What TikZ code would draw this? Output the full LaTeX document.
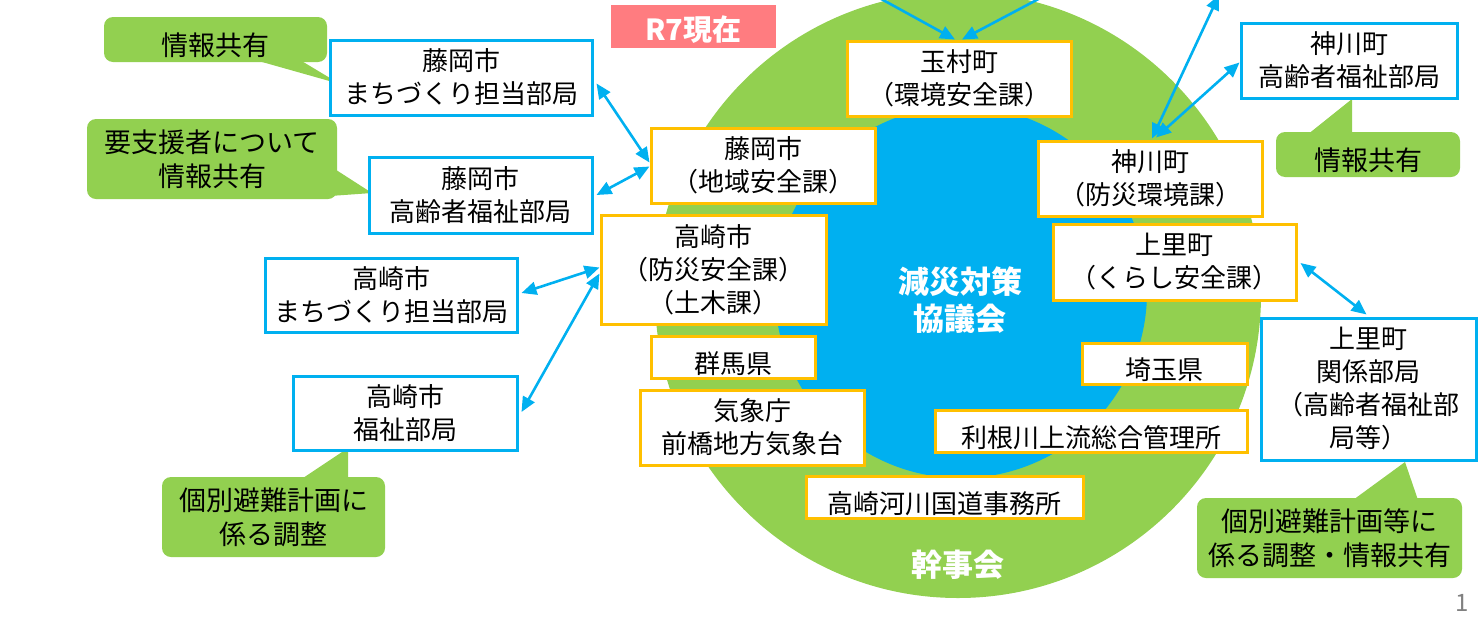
\documentclass[tikz,border=0pt]{standalone}
\usepackage{fontspec}
\setmainfont{Noto Sans CJK JP}
\usetikzlibrary{arrows.meta,calc}
\definecolor{ringgreen}{HTML}{92D050}
\definecolor{coreblue}{HTML}{00B0F0}
\definecolor{boxorange}{HTML}{FFC000}
\definecolor{tagpink}{HTML}{FF7C80}
\tikzset{
  member/.style={draw=boxorange,fill=white,line width=3pt,align=center,inner sep=0pt,
    execute at begin node={\rule{0pt}{35pt}},font=\fontsize{26}{33}\selectfont},
  dept/.style={draw=coreblue,fill=white,line width=3pt,align=center,inner sep=0pt,
    execute at begin node={\rule{0pt}{35pt}},font=\fontsize{26}{33}\selectfont},
  note/.style={fill=ringgreen,rounded corners=9pt,align=center,inner sep=0pt,
    execute at begin node={\rule{0pt}{34pt}},font=\fontsize{27}{34}\selectfont},
  link/.style={coreblue,line width=2.6pt,{Triangle[length=15pt,width=13pt]}-{Triangle[length=15pt,width=13pt]}},
  inlink/.style={coreblue,line width=2.6pt,-{Triangle[length=15pt,width=13pt]}},
  label/.style={text=white,font=\bfseries\fontsize{31}{37}\selectfont,align=center}
}
\begin{document}
\begin{tikzpicture}[x=1pt,y=-1pt]
\useasboundingbox (0,0) rectangle (1483,619);
\clip (0,0) rectangle (1483,619);
% circles
\fill[ringgreen] (958,295) circle (303);
\fill[coreblue] (961,292) circle (186);
\node[label] (council) at (960,300) {減災対策\\協議会};
\node[label] (board) at (958,565) {幹事会};
\node[fill=tagpink,minimum width=165,minimum height=43,inner sep=0pt,text=white,
  font=\bfseries\fontsize{29}{32}\selectfont] (tag) at (693.5,26) {\rule{0pt}{31pt}R7現在};
% callouts
\node[note,minimum width=223,minimum height=45] (n1) at (215.5,39.5) {情報共有};
\fill[ringgreen] (255,60) -- (300,60) -- (340,84) -- cycle;
\node[note,minimum width=250,minimum height=80] (n2) at (212,159) {要支援者について\\情報共有};
\fill[ringgreen] (330,166) -- (330,196) -- (372,193) -- cycle;
\node[note,minimum width=223,minimum height=80] (n3) at (273.5,517) {個別避難計画に\\係る調整};
\fill[ringgreen] (300,480) -- (348,480) -- (348,448) -- cycle;
\node[note,minimum width=184,minimum height=45] (n4) at (1368,154.5) {情報共有};
\fill[ringgreen] (1307,135) -- (1352,135) -- (1352,99) -- cycle;
\node[note,minimum width=265,minimum height=80] (n5) at (1329.5,538) {個別避難計画等に\\係る調整・情報共有};
\fill[ringgreen] (1353,500) -- (1418,500) -- (1405,462) -- cycle;
% members
\node[member,minimum width=224,minimum height=75] (tamamura) at (959,78.5) {玉村町\\（環境安全課）};
\node[member,minimum width=224,minimum height=75] (fsafety) at (763,165.5) {藤岡市\\（地域安全課）};
\node[member,minimum width=225,minimum height=109] (tsafety) at (713.5,269.5) {高崎市\\（防災安全課）\\（土木課）};
\node[member,minimum width=164,minimum height=42] (gunma) at (733,357) {群馬県};
\node[member,minimum width=224,minimum height=75] (jma) at (752,427.5) {気象庁\\前橋地方気象台};
\node[member,minimum width=277,minimum height=42] (kasen) at (944.5,497) {高崎河川国道事務所};
\node[member,minimum width=312,minimum height=42] (tone) at (1091,431) {利根川上流総合管理所};
\node[member,minimum width=165,minimum height=41] (saitama) at (1164.5,363.5) {埼玉県};
\node[member,minimum width=243,minimum height=76] (ksafety) at (1174.5,262) {上里町\\（くらし安全課）};
\node[member,minimum width=224,minimum height=75] (kmsafety) at (1150,178.5) {神川町\\（防災環境課）};
% departments
\node[dept,minimum width=262,minimum height=75] (ftown) at (461,77.5) {藤岡市\\まちづくり担当部局};
\node[dept,minimum width=223,minimum height=76] (felder) at (480.5,195) {藤岡市\\高齢者福祉部局};
\node[dept,minimum width=252,minimum height=74] (ttown) at (391,295) {高崎市\\まちづくり担当部局};
\node[dept,minimum width=224,minimum height=74] (twelfare) at (405,413) {高崎市\\福祉部局};
\node[dept,minimum width=216,minimum height=75] (kmelder) at (1349,60.5) {神川町\\高齢者福祉部局};
\node[dept,minimum width=215,minimum height=142] (kdept) at (1368.5,389) {上里町\\関係部局\\（高齢者福祉部\\局等）};
% links
\coordinate (topA) at (874,-5);
\coordinate (topB) at (1046,-5);
\coordinate (topC) at (1219,-5);
\draw[link] ($(ftown.east)+(3,6)$) -- ($(fsafety.west)+(0,-3)$);
\draw[link] ($(fsafety.west)+(0,1)$) -- ($(felder.east)+(3,0)$);
\draw[link] ($(tsafety.west)+(0,-2)$) -- ($(ttown.east)+(3,-2)$);
\draw[link] ($(tsafety.west)+(0,4)$) -- ($(twelfare.east)+(3,-1)$);
\draw[inlink] (topA) -- ($(tamamura.north)+(-4,0)$);
\draw[inlink] (topB) -- ($(tamamura.north)+(3,0)$);
\draw[link] (topC) -- ($(kmsafety.north)+(2,-1)$);
\draw[link] ($(kmelder.west)+(0,2)$) -- ($(kmsafety.north)+(6,-2)$);
\draw[link] ($(ksafety.east)+(3,1)$) -- ($(kdept.north)+(-2,-2)$);
\node[text=gray,font=\fontsize{24}{28}\selectfont] (page) at (1462,603) {1};
\end{tikzpicture}
\end{document}
